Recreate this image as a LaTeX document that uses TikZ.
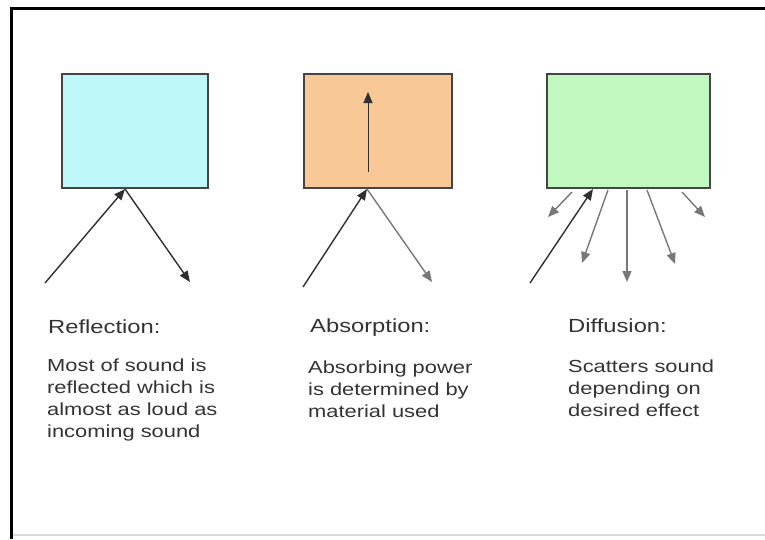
\documentclass[tikz,border=0pt]{standalone}
\usepackage{fontspec}
\newfontfamily\lab[FakeStretch=1.25]{Liberation Sans}
\usetikzlibrary{arrows.meta}
\definecolor{cyanfill}{HTML}{BEF8F8}
\definecolor{orangefill}{HTML}{F8C896}
\definecolor{greenfill}{HTML}{C0F8C0}
\definecolor{edge}{HTML}{454545}
\definecolor{ink}{HTML}{303030}
\definecolor{txt}{HTML}{333333}
\begin{document}
\begin{tikzpicture}[x=1pt,y=-1pt,
 panel/.style={draw=edge,line width=1.8pt,minimum height=114pt,inner sep=0pt},
 ray/.style={draw=ink,line width=1.4pt,-{Triangle[length=11pt,width=9pt]}},
 softray/.style={ray,draw=ink!65},
 title/.style={anchor=base west,inner sep=0pt,text=txt,font=\lab\fontsize{19}{22}\selectfont},
 body/.style={anchor=base west,inner sep=0pt,align=left,text=txt,font=\lab\fontsize{17.5}{21.7}\selectfont}]
\path[use as bounding box] (0,0) rectangle (765,539);
% frame
\draw[line width=3pt,black] (11.5,539) -- (11.5,8.5) -- (765,8.5);
\draw[line width=1.5pt,black!15] (13,535) -- (765,535);
% panels
\node[panel,fill=cyanfill,minimum width=146pt] (refl) at (135,131) {};
\node[panel,fill=orangefill,minimum width=148pt] (abso) at (378,131) {};
\node[panel,fill=greenfill,minimum width=163pt] (diff) at (628.5,131) {};
% reflection rays
\coordinate (r-in) at (45,283);
\coordinate (r-hit) at (125,189);
\coordinate (r-out) at (190,282);
\draw[ray] (r-in) -- (r-hit);
\draw[ray] (r-hit) -- (r-out);
% absorption rays
\coordinate (a-in) at (303,287);
\coordinate (a-hit) at (367,189);
\coordinate (a-out) at (432,282);
\coordinate (a-low) at (368,172);
\coordinate (a-up) at (368,92);
\draw[ray] (a-in) -- (a-hit);
\draw[softray] (a-hit) -- (a-out);
\draw[ray,line width=1pt] (a-low) -- (a-up);
% diffusion rays
\coordinate (d-in) at (530,283);
\coordinate (d-hit) at (593,189);
\draw[ray] (d-in) -- (d-hit);
\coordinate (d1s) at (572,192); \coordinate (d1e) at (548,217);
\coordinate (d2s) at (608,190); \coordinate (d2e) at (582,263);
\coordinate (d3s) at (627,190); \coordinate (d3e) at (627,282);
\coordinate (d4s) at (647,190); \coordinate (d4e) at (675,264);
\coordinate (d5s) at (682,192); \coordinate (d5e) at (705,217);
\draw[softray] (d1s) -- (d1e);
\draw[softray] (d2s) -- (d2e);
\draw[softray] (d3s) -- (d3e);
\draw[softray] (d4s) -- (d4e);
\draw[softray] (d5s) -- (d5e);
% texts (body nodes anchored at the baseline of their last line)
\node[title] (t1) at (48,333) {Reflection:};
\node[body] (b1) at (47,437) {Most of sound is\\reflected which is\\almost as loud as\\incoming sound};
\node[title] (t2) at (310,332) {Absorption:};
\node[body] (b2) at (308,417) {Absorbing power\\is determined by\\material used};
\node[title] (t3) at (568,332) {Diffusion:};
\node[body] (b3) at (568,416) {Scatters sound\\depending on\\desired effect};
\end{tikzpicture}
\end{document}
